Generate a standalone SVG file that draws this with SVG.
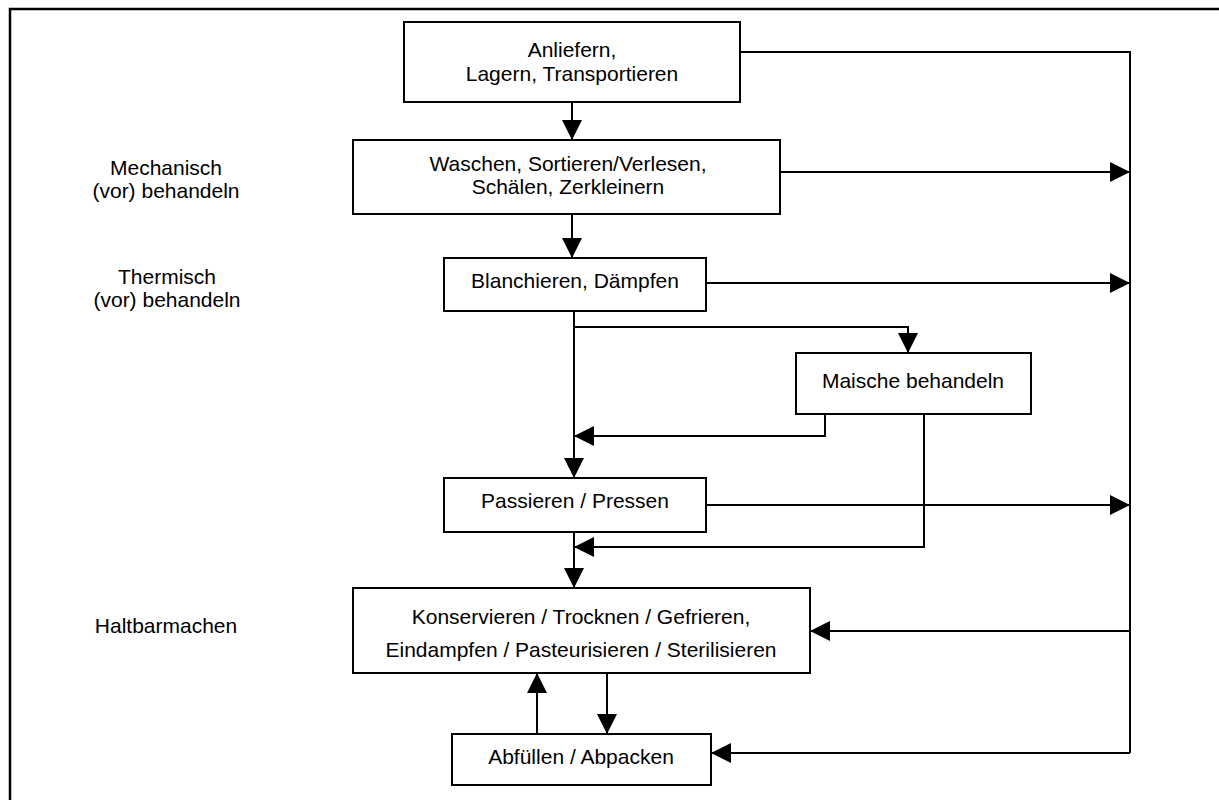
<svg xmlns="http://www.w3.org/2000/svg" width="1219" height="800" viewBox="0 0 1219 800">
  <style>
    .box { fill: #ffffff; stroke: #000000; stroke-width: 2; }
    .lbl { font-family: "Liberation Sans", Arial, sans-serif; font-size: 21px; fill: #000000; text-anchor: middle; }
    .wire { fill: none; stroke: #000000; stroke-width: 2; }
    .arr { marker-end: url(#head); }
  </style>
  <defs>
    <marker id="head" markerUnits="userSpaceOnUse" markerWidth="20" markerHeight="20" viewBox="0 0 18 18" refX="18" refY="9" orient="auto">
      <path d="M0,0 L18,9 L0,18 Z" fill="#000000"/>
    </marker>
  </defs>

  <rect width="1219" height="800" fill="#ffffff"/>

  <!-- outer frame (runs off right and bottom edge) -->
  <path d="M1219,9 H10 V800" fill="none" stroke="#000000" stroke-width="2.5"/>

  <!-- stage labels on the left -->
  <g id="stage-labels">
    <text class="lbl" x="166" y="175">Mechanisch</text>
    <text class="lbl" x="166" y="198">(vor) behandeln</text>
    <text class="lbl" x="167" y="284">Thermisch</text>
    <text class="lbl" x="167" y="307">(vor) behandeln</text>
    <text class="lbl" x="166" y="633">Haltbarmachen</text>
  </g>

  <!-- connectors -->
  <g id="connectors">
    <path class="wire" d="M740,52 H1130 V753"/>
    <path class="wire arr" d="M572,103 V140"/>
    <path class="wire arr" d="M572,214 V258"/>
    <path class="wire arr" d="M780,172 H1130"/>
    <path class="wire arr" d="M706,283 H1130"/>
    <path class="wire arr" d="M706,505 H1130"/>
    <path class="wire arr" d="M1130,631 H810"/>
    <path class="wire arr" d="M1130,753 H711"/>
    <path class="wire arr" d="M574,311 V478"/>
    <path class="wire arr" d="M574,327 H908 V353"/>
    <path class="wire arr" d="M825,414 V436 H574"/>
    <path class="wire arr" d="M924,414 V547 H574"/>
    <path class="wire arr" d="M574,532 V588"/>
    <path class="wire arr" d="M537,734 V673"/>
    <path class="wire arr" d="M607,673 V734"/>
  </g>

  <g id="anliefern">
    <rect class="box" x="404" y="22" width="336" height="80"/>
    <text class="lbl" x="572" y="57">Anliefern,</text>
    <text class="lbl" x="572" y="81">Lagern, Transportieren</text>
  </g>

  <g id="waschen">
    <rect class="box" x="353" y="140" width="427" height="74"/>
    <text class="lbl" x="568" y="171">Waschen, Sortieren/Verlesen,</text>
    <text class="lbl" x="568" y="194">Schälen, Zerkleinern</text>
  </g>

  <g id="blanchieren">
    <rect class="box" x="444" y="258" width="262" height="53"/>
    <text class="lbl" x="575" y="288">Blanchieren, Dämpfen</text>
  </g>

  <g id="maische">
    <rect class="box" x="796" y="353" width="235" height="61"/>
    <text class="lbl" x="913" y="388">Maische behandeln</text>
  </g>

  <g id="passieren">
    <rect class="box" x="444" y="478" width="262" height="54"/>
    <text class="lbl" x="575" y="508">Passieren / Pressen</text>
  </g>

  <g id="konservieren">
    <rect class="box" x="353" y="588" width="457" height="85"/>
    <text class="lbl" x="581" y="624">Konservieren / Trocknen / Gefrieren,</text>
    <text class="lbl" x="581" y="657">Eindampfen / Pasteurisieren / Sterilisieren</text>
  </g>

  <g id="abfuellen">
    <rect class="box" x="452" y="734" width="259" height="51"/>
    <text class="lbl" x="581" y="764">Abfüllen / Abpacken</text>
  </g>
</svg>
